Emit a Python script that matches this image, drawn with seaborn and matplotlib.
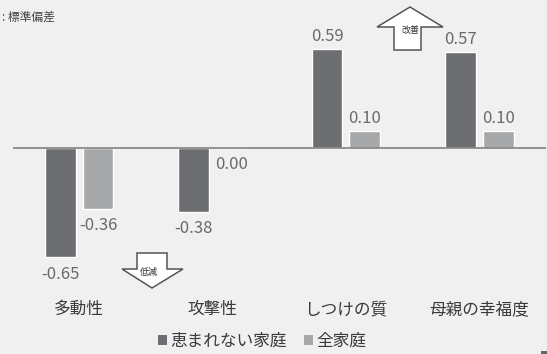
import matplotlib
matplotlib.use("Agg")
import matplotlib.pyplot as plt
from matplotlib.patches import Patch, Polygon, Rectangle
import seaborn as sns
import pandas as pd

# Items measured (in standard deviation units)
items = ["多動性", "攻撃性", "しつけの質", "母親の幸福度"]
groups = ["恵まれない家庭", "全家庭"]
disadvantaged = [-0.65, -0.38, 0.59, 0.57]
all_families = [-0.36, 0.00, 0.10, 0.10]

BG = "#f0f0f0"
DARK = "#6d6e71"
LIGHT = "#a7a8aa"
LABEL = "#6a6a6a"
TEXT = "#3a3a3a"

sns.set_theme(style="white")
plt.rcParams["font.family"] = ["Noto Sans CJK JP", "DejaVu Sans"]

df = pd.DataFrame({
    "item": items * 2,
    "score": disadvantaged + all_families,
    "group": [groups[0]] * len(items) + [groups[1]] * len(items),
})

W, H = 547, 354
fig = plt.figure(figsize=(W / 100, H / 100), dpi=100, facecolor=BG)


def px(x, y):
    """Pixel position (from top-left) to figure fraction."""
    return x / W, 1 - y / H


ax = fig.add_axes([12.5 / W, 1 - 290 / H, 533.5 / W, 270 / H])
ax.set_facecolor(BG)

sns.barplot(data=df, x="item", y="score", hue="group", order=items,
            hue_order=groups, palette=[DARK, LIGHT], width=0.567, gap=0.187,
            saturation=1, legend=False, ax=ax)

ax.set_xlim(-0.5, 3.5)
ax.set_ylim(-0.845, 0.762)
ax.axhline(0, color="#8a8a8a", lw=1.3, zorder=3)
for s in ax.spines.values():
    s.set_visible(False)
ax.set_xlabel("")
ax.set_ylabel("")
ax.set_yticks([])
ax.tick_params(axis="x", length=0, pad=8, labelsize=12, labelcolor=TEXT)

# Value labels: above positive bars, below zero/negative bars
for container in ax.containers:
    for patch in container.patches:
        v = patch.get_height()
        xc = patch.get_x() + patch.get_width() / 2
        if v > 0:
            ax.annotate(f"{v:.2f}", (xc, v), xytext=(0, 3), textcoords="offset points",
                        ha="center", va="bottom", fontsize=12, color=LABEL)
        else:
            ax.annotate(f"{v:.2f}", (xc, v), xytext=(0, -6), textcoords="offset points",
                        ha="center", va="top", fontsize=12, color=LABEL)

# Legend
handles = [Patch(facecolor=DARK, edgecolor="none", label=groups[0]),
           Patch(facecolor=LIGHT, edgecolor="none", label=groups[1])]
fig.legend(handles=handles, loc="center", bbox_to_anchor=px(262, 341), ncol=2,
           frameon=False, fontsize=12, handlelength=0.55, handleheight=0.55,
           handletextpad=0.2, columnspacing=1.0, labelcolor=TEXT)

# Unit note
fig.text(*px(2, 17), ": 標準偏差", fontsize=8.5, color="#444444", va="center", ha="left")

# Direction arrows
up = [(410, 7), (443, 27), (421, 27), (421, 50), (394, 50), (394, 27), (377, 27)]
down = [(137, 253), (167, 253), (167, 269), (183, 269), (152, 288), (122, 269), (137, 269)]
for shape in (up, down):
    fig.add_artist(Polygon([px(x, y) for x, y in shape], closed=True,
                           transform=fig.transFigure, facecolor="white",
                           edgecolor="#555555", lw=1.1, zorder=5))
fig.text(*px(410, 30), "改善", fontsize=6.5, color="#333333", ha="center", va="center", zorder=6)
fig.text(*px(149, 272), "低減", fontsize=6.5, color="#333333", ha="center", va="center", zorder=6)

fig.add_artist(Rectangle(px(541, 354), 6 / W, 3 / H, transform=fig.transFigure,
                         facecolor="#666666", edgecolor="none"))

fig.savefig("out.png", dpi=100, facecolor=BG)
